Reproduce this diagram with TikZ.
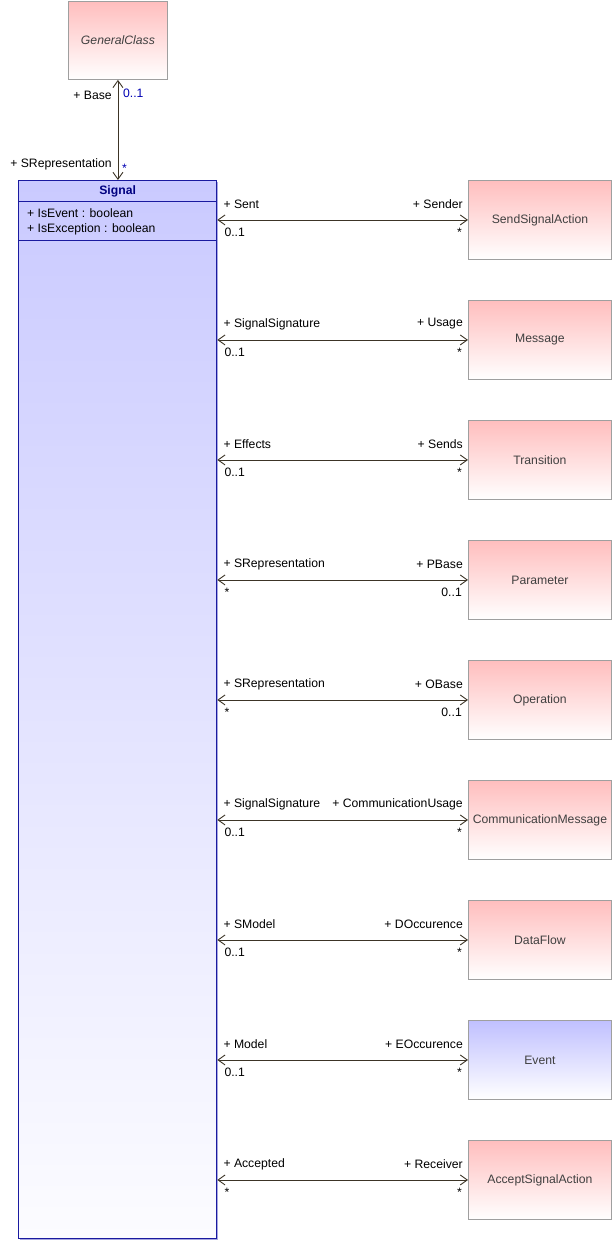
\documentclass[tikz,border=0pt]{standalone}
\usepackage{fontspec}
\setmainfont{Liberation Sans}
\usetikzlibrary{arrows.meta}
\definecolor{pinktop}{HTML}{FFBEBE}
\definecolor{bluetop}{HTML}{C0C0FF}
\definecolor{sigtop}{HTML}{CACAFF}
\definecolor{sigbot}{HTML}{FCFCFF}
\definecolor{navyb}{HTML}{1A1AA0}
\definecolor{navyt}{HTML}{000080}
\definecolor{boxtext}{HTML}{404040}
\definecolor{assoccol}{HTML}{3C3426}
\definecolor{shadowcol}{HTML}{A8A8E0}
\begin{document}
\begin{tikzpicture}[x=1pt,y=-1pt,
  font=\fontsize{12.2}{14}\selectfont,
  cls/.style={draw=gray!75, line width=0.9pt, anchor=north west, inner sep=0pt,
    minimum width=143pt, minimum height=79pt, bottom color=white, text=boxtext},
  assoc/.style={draw=assoccol, line width=0.9pt,
    {Straight Barb[length=7pt,width=10pt,line width=0.9pt]}-{Straight Barb[length=7pt,width=10pt,line width=0.9pt]}},
  lbl/.style={inner sep=0pt, text=black},
]
\useasboundingbox (0,0) rectangle (612,1240);

% GeneralClass
\node[cls, top color=pinktop, minimum width=99pt, minimum height=78pt, font=\fontsize{12.2}{14}\selectfont\itshape] (gen) at (68,1) {GeneralClass};

% Signal class
\fill[shadowcol] (20,182) rectangle (218,1240);
\node[draw=navyb, line width=1.3pt, anchor=north west, inner sep=0pt, minimum width=198pt, minimum height=1058pt,
  top color=sigtop, bottom color=sigbot] (sig) at (18,180) {};
\draw[navyb, line width=1pt] ([yshift=-21pt]sig.north west) -- ([yshift=-21pt]sig.north east);
\draw[navyb, line width=1pt] ([yshift=-60pt]sig.north west) -- ([yshift=-60pt]sig.north east);
\node[lbl, text=navyt, font=\fontsize{12.2}{14}\selectfont\bfseries] (sigtitle) at ([yshift=-11pt]sig.north) {Signal};
\node[lbl, anchor=west] (attr1) at ([shift={(9,33)}]sig.north west) {+ IsEvent : boolean};
\node[lbl, anchor=west] (attr2) at ([shift={(9,49)}]sig.north west) {+ IsException : boolean};

% association to GeneralClass
\draw[assoc] (sig.north -| gen.south) -- (gen.south);
\node[lbl, anchor=east] (baserole) at ([shift={(-6,15)}]gen.south) {+ Base};
\node[lbl, anchor=west, text=blue!70!black] (basemult) at ([shift={(5,13)}]gen.south) {0..1};
\node[lbl, anchor=east] (srrole) at ([shift={(-6,-16)}]sig.north -| gen.south) {+ SRepresentation};
\node[lbl, anchor=west, text=blue!70!black] (srmult) at ([shift={(4,-12)}]sig.north -| gen.south) {*};

% right-hand classes
\foreach \ty/\nm/\txt/\lr/\lm/\rr/\rm/\tc in {
  180/ssa/SendSignalAction/+ Sent/0..1/+ Sender/*/pinktop,
  300/msg/Message/+ SignalSignature/0..1/+ Usage/*/pinktop,
  420/tra/Transition/+ Effects/0..1/+ Sends/*/pinktop,
  540/par/Parameter/+ SRepresentation/*/+ PBase/0..1/pinktop,
  660/ope/Operation/+ SRepresentation/*/+ OBase/0..1/pinktop,
  780/com/CommunicationMessage/+ SignalSignature/0..1/+ CommunicationUsage/*/pinktop,
  900/daf/DataFlow/+ SModel/0..1/+ DOccurence/*/pinktop,
  1020/evt/Event/+ Model/0..1/+ EOccurence/*/bluetop,
  1140/asa/AcceptSignalAction/+ Accepted/*/+ Receiver/*/pinktop}{
  \node[cls, top color=\tc] (\nm) at (468,\ty) {\txt};
  \draw[assoc] (sig.east |- \nm.west) -- (\nm.west);
  \node[lbl, anchor=west] (\nm-lr) at ([shift={(6,-16)}]sig.east |- \nm.west) {\lr};
  \node[lbl, anchor=west] (\nm-lm) at ([shift={(7,12)}]sig.east |- \nm.west) {\lm};
  \node[lbl, anchor=east] (\nm-rr) at ([shift={(-5,-16)}]\nm.west) {\rr};
  \node[lbl, anchor=east] (\nm-rm) at ([shift={(-6,12)}]\nm.west) {\rm};
}
\end{tikzpicture}
\end{document}
